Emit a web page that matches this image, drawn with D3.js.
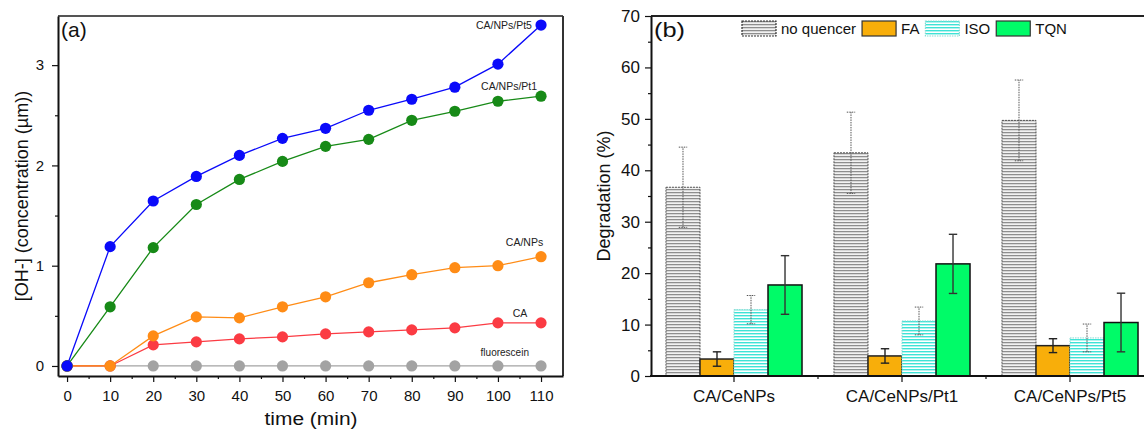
<!DOCTYPE html>
<html><head><meta charset="utf-8">
<script src="https://cdn.jsdelivr.net/npm/d3@7"></script>
<style>
html,body{margin:0;padding:0;background:#fff;}
svg{display:block;font-family:"Liberation Sans",Arial,sans-serif;}
</style></head>
<body>
<svg id="chart" width="1144" height="432"></svg>
<script>
// ---------- Panel (a) data ----------
const times = [0,10,20,30,40,50,60,70,80,90,100,110];
const seriesA = ["fluorescein","CA","CA/NPs","CA/NPs/Pt1","CA/NPs/Pt5"];
const fluorescein = [0,0,0,0,0,0,0,0,0,0,0,0];
const caOnly      = [0,0,0.21,0.24,0.27,0.29,0.32,0.34,0.36,0.38,0.43,0.43];
const caNPs       = [0,0,0.30,0.49,0.48,0.59,0.69,0.83,0.91,0.98,1.00,1.09];
const caNPsPt1    = [0,0.59,1.18,1.61,1.86,2.04,2.19,2.26,2.45,2.54,2.64,2.69];
const caNPsPt5    = [0,1.19,1.645,1.89,2.10,2.27,2.37,2.55,2.66,2.78,3.01,3.40];
const colorsA     = ["#a3a3a3","#fb3b43","#ff8c16","#178a17","#0a0afa"];
const xTicksA = [0,10,20,30,40,50,60,70,80,90,100,110];
const yTicksA = [0,1,2,3];
// label anchor points (data coords, text end)
const labelX = [107.2,106.8,110.5,109.1,107.9];
const labelY = [0.10,0.488,1.196,2.75,3.364];

// ---------- Panel (b) data ----------
const categories = ["CA/CeNPs","CA/CeNPs/Pt1","CA/CeNPs/Pt5"];
const quenchers  = ["no quencer","FA","ISO","TQN"];
const noQuencer  = [36.7,43.4,49.7];
const noQuencerErr = [7.8,7.9,7.85];
const faVals  = [3.3,3.9,5.9];
const faErr   = [1.4,1.4,1.35];
const isoVals = [12.9,10.7,7.4];
const isoErr  = [2.75,2.7,2.7];
const tqnVals = [17.7,21.8,10.4];
const tqnErr  = [5.7,5.75,5.7];
const yTicksB = [0,10,20,30,40,50,60,70];

const svg = d3.select("#chart");
const defs = svg.append("defs");
// grey striped pattern
const pg = defs.append("pattern").attr("id","stripeGray").attr("patternUnits","userSpaceOnUse")
  .attr("width",6).attr("height",3);
pg.append("rect").attr("width",6).attr("height",3).attr("fill","#f2f2f2");
pg.append("rect").attr("y",0).attr("width",6).attr("height",1.1).attr("fill","#8e8e8e");
pg.append("rect").attr("y",1.1).attr("width",6).attr("height",0.7).attr("fill","#d0d0d0");
// cyan striped pattern
const pc = defs.append("pattern").attr("id","stripeCyan").attr("patternUnits","userSpaceOnUse")
  .attr("width",6).attr("height",3);
pc.append("rect").attr("width",6).attr("height",3).attr("fill","#ffffff");
pc.append("rect").attr("y",0).attr("width",6).attr("height",1.4).attr("fill","#3ee3d6");

// ================= Panel (a) =================
const xA = d3.scaleLinear().domain([-2.1,115.1]).range([58,563]);
const yA = d3.scaleLinear().domain([-0.1,3.49]).range([376,16]);
const gA = svg.append("g");

// frame top/right
gA.append("line").attr("x1",58).attr("x2",563).attr("y1",16).attr("y2",16).attr("stroke","#555").attr("stroke-width",2);
gA.append("line").attr("x1",563).attr("x2",563).attr("y1",16).attr("y2",376).attr("stroke","#333").attr("stroke-width",2);

function styleAxis(g, fs){
  g.selectAll("path").attr("stroke","#111").attr("stroke-width",2);
  g.selectAll("line").attr("stroke","#111").attr("stroke-width",1.2);
  g.selectAll("text").attr("fill","#111").style("font-size",fs+"px").style("font-family",'"Liberation Sans",Arial,sans-serif');
}

const axBA = gA.append("g").attr("transform","translate(0,376)")
  .call(d3.axisBottom(xA).tickValues(xTicksA).tickSize(6).tickSizeOuter(0).tickPadding(8).tickFormat(d3.format("d")));
styleAxis(axBA,15);
const axBAm = gA.append("g").attr("transform","translate(0,376)")
  .call(d3.axisBottom(xA).tickValues(d3.range(5,115,10)).tickSize(3).tickSizeOuter(0).tickFormat(""));
styleAxis(axBAm,15); axBAm.select("path").remove();

const axLA = gA.append("g").attr("transform","translate(58,0)")
  .call(d3.axisLeft(yA).tickValues(yTicksA).tickSize(6).tickSizeOuter(0).tickPadding(8).tickFormat(d3.format("d")));
styleAxis(axLA,15);
const axLAm = gA.append("g").attr("transform","translate(58,0)")
  .call(d3.axisLeft(yA).tickValues([0.5,1.5,2.5]).tickSize(3).tickSizeOuter(0).tickFormat(""));
styleAxis(axLAm,15); axLAm.select("path").remove();

const dataA = [fluorescein, caOnly, caNPs, caNPsPt1, caNPsPt5];
const line = d3.line().x((d,i)=>xA(times[i])).y(d=>yA(d));
dataA.forEach((vals,si)=>{
  const g = gA.append("g");
  g.append("path").datum(vals).attr("d",line).attr("fill","none")
    .attr("stroke",colorsA[si]).attr("stroke-width",1.3);
  g.selectAll("circle").data(vals).join("circle")
    .attr("cx",(d,i)=>xA(times[i])).attr("cy",d=>yA(d)).attr("r",5.6)
    .attr("fill",colorsA[si]);
});
// series labels
seriesA.forEach((name,i)=>{
  gA.append("text").attr("x",xA(labelX[i])).attr("y",yA(labelY[i]))
    .attr("text-anchor","end").style("font-size", i===0 ? "10px" : "10.5px")
    .attr("fill","#222").text(name);
});
gA.append("text").attr("x",61).attr("y",37).style("font-size","21px").attr("fill","#111").text("(a)");
gA.append("text").attr("transform","translate(28,196) rotate(-90)").attr("text-anchor","middle")
  .style("font-size","18px").attr("fill","#111").text("[OH-] (concentration (µm))");
gA.append("text").attr("x",311).attr("y",425).attr("text-anchor","middle")
  .style("font-size","18px").attr("fill","#111").attr("textLength",93).attr("lengthAdjust","spacingAndGlyphs").text("time (min)");

// ================= Panel (b) =================
const xB = d3.scaleBand().domain(categories).range([650,1154]).paddingInner(0).paddingOuter(0);
const xSub = d3.scaleBand().domain(quenchers).range([0,xB.bandwidth()]).paddingInner(0).paddingOuter(0.47);
const yB = d3.scaleLinear().domain([0,70]).range([376,16]);
const gB = svg.append("g");

const fills = {"no quencer":"url(#stripeGray)","FA":"#f8ae0a","ISO":"url(#stripeCyan)","TQN":"#00fb68"};
const strokes = {"no quencer":"#555","FA":"#222","ISO":"#8adcd4","TQN":"#111"};
const dashes = {"no quencer":"2,1","FA":null,"ISO":"1.5,1","TQN":null};
const strokeW = {"no quencer":1,"FA":1.5,"ISO":1,"TQN":1.5};
const valsB = {"no quencer":noQuencer,"FA":faVals,"ISO":isoVals,"TQN":tqnVals};
const errsB = {"no quencer":noQuencerErr,"FA":faErr,"ISO":isoErr,"TQN":tqnErr};
const errStyle = {"no quencer":{c:"#555",w:1,d:"1.5,1"},"FA":{c:"#222",w:1.4,d:null},"ISO":{c:"#555",w:1,d:"1.5,1"},"TQN":{c:"#333",w:1.4,d:null}};

const barsData = [];
categories.forEach((c,ci)=>quenchers.forEach(q=>barsData.push({c,q,v:valsB[q][ci],e:errsB[q][ci]})));

gB.selectAll("rect.bar").data(barsData).join("rect").attr("class","bar")
  .attr("x",d=>xB(d.c)+xSub(d.q)).attr("width",xSub.bandwidth())
  .attr("y",d=>yB(d.v)).attr("height",d=>yB(0)-yB(d.v))
  .attr("fill",d=>fills[d.q]).attr("stroke",d=>strokes[d.q])
  .attr("stroke-width",d=>strokeW[d.q]).attr("stroke-dasharray",d=>dashes[d.q]);

const eg = gB.selectAll("g.err").data(barsData).join("g").attr("class","err");
eg.each(function(d){
  const g = d3.select(this);
  const cx = xB(d.c)+xSub(d.q)+xSub.bandwidth()/2;
  const st = errStyle[d.q];
  const hw = 4.2;
  const seg = [[cx,yB(d.v-d.e),cx,yB(d.v+d.e)],[cx-hw,yB(d.v+d.e),cx+hw,yB(d.v+d.e)],[cx-hw,yB(d.v-d.e),cx+hw,yB(d.v-d.e)]];
  seg.forEach(s=>g.append("line").attr("x1",s[0]).attr("y1",s[1]).attr("x2",s[2]).attr("y2",s[3])
    .attr("stroke",st.c).attr("stroke-width",st.w).attr("stroke-dasharray",st.d));
});

// top frame
gB.append("line").attr("x1",651).attr("x2",1144).attr("y1",16).attr("y2",16).attr("stroke","#222").attr("stroke-width",2);

// bottom axis
gB.append("line").attr("x1",650).attr("x2",1144).attr("y1",376).attr("y2",376).attr("stroke","#111").attr("stroke-width",2);
const axBB = gB.append("g").attr("transform","translate(0,376)")
  .call(d3.axisBottom(xB).tickSize(6).tickSizeOuter(0).tickPadding(8));
styleAxis(axBB,17); axBB.select("path").remove();
const bounds = categories.slice(1).map(c=>xB(c));
gB.selectAll("line.minorB").data(bounds).join("line").attr("class","minorB")
  .attr("x1",d=>d).attr("x2",d=>d).attr("y1",376).attr("y2",379).attr("stroke","#111").attr("stroke-width",1.2);

const axLB = gB.append("g").attr("transform","translate(651,0)")
  .call(d3.axisLeft(yB).tickValues(yTicksB).tickSize(6).tickSizeOuter(0).tickPadding(5));
styleAxis(axLB,17);
const axLBm = gB.append("g").attr("transform","translate(651,0)")
  .call(d3.axisLeft(yB).tickValues(d3.range(5,70,10)).tickSize(3).tickSizeOuter(0).tickFormat(""));
styleAxis(axLBm,17); axLBm.select("path").remove();

gB.append("text").attr("x",654).attr("y",37).style("font-size","21px").attr("fill","#111").attr("textLength",31).attr("lengthAdjust","spacingAndGlyphs").text("(b)");
gB.append("text").attr("transform","translate(610,196) rotate(-90)").attr("text-anchor","middle")
  .style("font-size","18px").attr("fill","#111").text("Degradation (%)");

// legend
const lg = gB.append("g");
let lx = 742;
quenchers.forEach(q=>{
  lg.append("rect").attr("x",lx).attr("y",21).attr("width",34).attr("height",15)
    .attr("fill",fills[q]).attr("stroke",q==="ISO"?"#8adcd4":"#333").attr("stroke-width",1.2)
    .attr("stroke-dasharray",dashes[q]);
  const t = lg.append("text").attr("x",lx+39).attr("y",34).style("font-size","15px").attr("fill","#111").text(q);
  lx = lx + 39 + t.node().getComputedTextLength() + 6;
});
</script>
</body></html>
